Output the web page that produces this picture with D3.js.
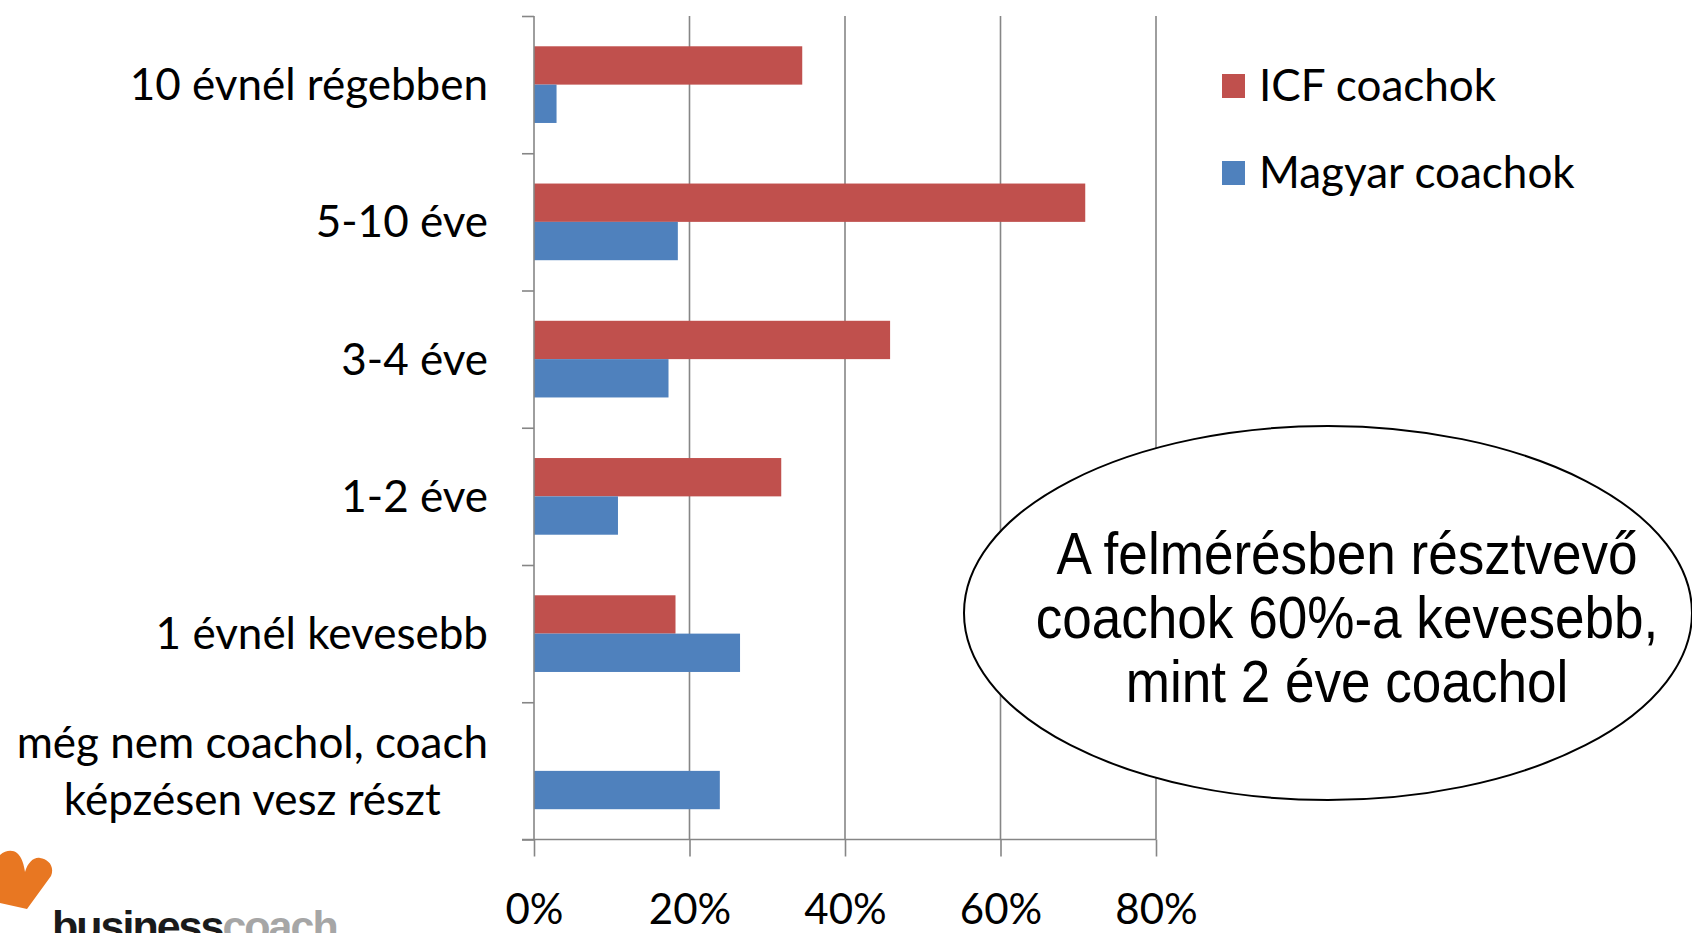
<!DOCTYPE html>
<html>
<head>
<meta charset="utf-8">
<script src="https://cdn.jsdelivr.net/npm/d3@7"></script>
<style>
  html, body { margin: 0; padding: 0; background: #fff; overflow: hidden; }
</style>
</head>
<body>
<div id="chart"></div>
<script>
// categories, top to bottom
const categories = ["10 évnél régebben", "5-10 éve", "3-4 éve", "1-2 éve", "1 évnél kevesebb", "még nem coachol, coach képzésen vesz részt"];
const categoryLines = [["10 évnél régebben"], ["5-10 éve"], ["3-4 éve"], ["1-2 éve"], ["1 évnél kevesebb"], ["még nem coachol, coach", "képzésen vesz részt"]];
const seriesNames = ["ICF coachok", "Magyar coachok"];
const icfValues = [0.345, 0.709, 0.458, 0.318, 0.182, 0];
const magyarValues = [0.029, 0.185, 0.173, 0.108, 0.265, 0.239];
const xTicks = [0, 0.2, 0.4, 0.6, 0.8];
const noteLines = ["A felmérésben résztvevő", "coachok 60%-a kevesebb,", "mint 2 éve coachol"];

const W = 1692, H = 933;
const colors = { "ICF coachok": "#C0504D", "Magyar coachok": "#4F81BD" };
const gridColor = "#868686";
const labelFont = "Lato, 'Open Sans', sans-serif";
const labelSize = 44;

const svg = d3.select("#chart").append("svg")
    .attr("width", W)
    .attr("height", H);

// scales
const x = d3.scaleLinear().domain([0, 0.8]).range([534, 1156]);
const y = d3.scaleBand().domain(categories).range([16, 839.5]);
const yIdx = d3.scaleLinear().domain([0, categories.length]).range([16, 839.5]);
const ySub = d3.scaleBand().domain(seriesNames).range([0, y.bandwidth()]).paddingOuter(0.79);

// vertical gridlines
svg.append("g").selectAll("line")
    .data(xTicks.slice(1))
    .enter().append("line")
    .attr("x1", d => x(d)).attr("x2", d => x(d))
    .attr("y1", 16).attr("y2", 839.5)
    .attr("stroke", gridColor)
    .attr("stroke-width", 1.6);

// bars
const rows = categories.map((c, i) => ({ cat: c, values: [icfValues[i], magyarValues[i]] }));
const groups = svg.append("g").selectAll("g")
    .data(rows)
    .enter().append("g")
    .attr("transform", d => `translate(0,${y(d.cat)})`);

groups.selectAll("rect")
    .data(d => seriesNames.map((s, j) => ({ series: s, value: d.values[j] })))
    .enter().append("rect")
    .attr("x", x(0))
    .attr("y", d => ySub(d.series))
    .attr("width", d => x(d.value) - x(0))
    .attr("height", ySub.bandwidth())
    .attr("fill", d => colors[d.series]);

// y axis (ticks between categories)
const yAxis = svg.append("g")
    .attr("transform", `translate(${x(0)},0)`)
    .call(d3.axisLeft(yIdx).tickValues(d3.range(categories.length + 1)).tickSize(12).tickFormat(""));
yAxis.select(".domain").remove();
yAxis.selectAll(".tick line").attr("stroke", gridColor).attr("stroke-width", 1.6);
svg.append("line")
    .attr("x1", x(0)).attr("x2", x(0))
    .attr("y1", 16).attr("y2", 839.5)
    .attr("stroke", gridColor).attr("stroke-width", 1.6);

// x axis
const xAxis = svg.append("g")
    .attr("transform", "translate(0,839.5)")
    .call(d3.axisBottom(x).tickValues(xTicks).tickSize(17).tickFormat(d3.format(".0%")));
xAxis.select(".domain").remove();
xAxis.selectAll(".tick line").attr("stroke", gridColor).attr("stroke-width", 1.6);
xAxis.selectAll(".tick text")
    .attr("y", 70)
    .attr("dy", "0.35em")
    .attr("fill", "#000")
    .style("font-family", labelFont)
    .style("font-size", "42px");
svg.append("line")
    .attr("x1", 522).attr("x2", x(0.8))
    .attr("y1", 839.5).attr("y2", 839.5)
    .attr("stroke", gridColor).attr("stroke-width", 1.6);

// category labels: right-aligned block, lines centred inside the block
const lineGap = 57;
const labelRight = 488;
svg.append("g").selectAll("text")
    .data(categories)
    .enter().append("text")
    .attr("y", d => y(d) + y.bandwidth() / 2)
    .attr("text-anchor", "middle")
    .style("font-family", labelFont)
    .style("font-size", labelSize + "px")
    .attr("fill", "#000")
    .each(function (d, i) {
        const lines = categoryLines[i];
        const t = d3.select(this);
        const spans = lines.map((ln, k) => t.append("tspan")
            .attr("dy", k === 0 ? `${0.35 - (lines.length - 1) * lineGap / 2 / labelSize}em` : lineGap + "px")
            .text(ln));
        const maxW = d3.max(spans, s => s.node().getComputedTextLength());
        spans.forEach(s => s.attr("x", labelRight - maxW / 2));
    });

// legend
const legend = svg.append("g").selectAll("g")
    .data(seriesNames)
    .enter().append("g")
    .attr("transform", (d, i) => `translate(1222,${86 + i * 87})`);
legend.append("rect")
    .attr("x", 0).attr("y", -12)
    .attr("width", 23).attr("height", 24)
    .attr("fill", d => colors[d]);
legend.append("text")
    .attr("x", 37).attr("y", 0)
    .attr("dy", "0.35em")
    .style("font-family", labelFont)
    .style("font-size", labelSize + "px")
    .attr("fill", "#000")
    .text(d => d);

// note ellipse
svg.append("ellipse")
    .attr("cx", 1328).attr("cy", 613)
    .attr("rx", 364).attr("ry", 187)
    .attr("fill", "#fff")
    .attr("stroke", "#000")
    .attr("stroke-width", 2);
svg.append("g")
    .attr("transform", "translate(1347,0) scale(0.9,1)")
    .selectAll("text")
    .data(noteLines)
    .enter().append("text")
    .attr("x", 0)
    .attr("y", (d, i) => 553 + i * 64)
    .attr("dy", "0.35em")
    .attr("text-anchor", "middle")
    .style("font-family", "'Liberation Sans', Arial, sans-serif")
    .style("font-size", "59px")
    .attr("fill", "#000")
    .text(d => d);

// logo
svg.append("path")
    .attr("d", "M-4,860 C2,850 12,849 17,853 C22,857 24,865 25,872 C28,862 34,857 40,858 C48,859 55,866 51,876 L27,909 L-4,902 Z")
    .attr("fill", "#E87722");
const logo = svg.append("text")
    .attr("x", 52).attr("y", 941)
    .style("font-family", "'Liberation Sans', Arial, sans-serif")
    .style("font-weight", "bold")
    .style("font-size", "43px")
    .style("letter-spacing", "-2px");
logo.append("tspan").attr("fill", "#1a1a1a").text("business");
logo.append("tspan").attr("fill", "#A6A6A6").text("coach");
</script>
</body>
</html>
